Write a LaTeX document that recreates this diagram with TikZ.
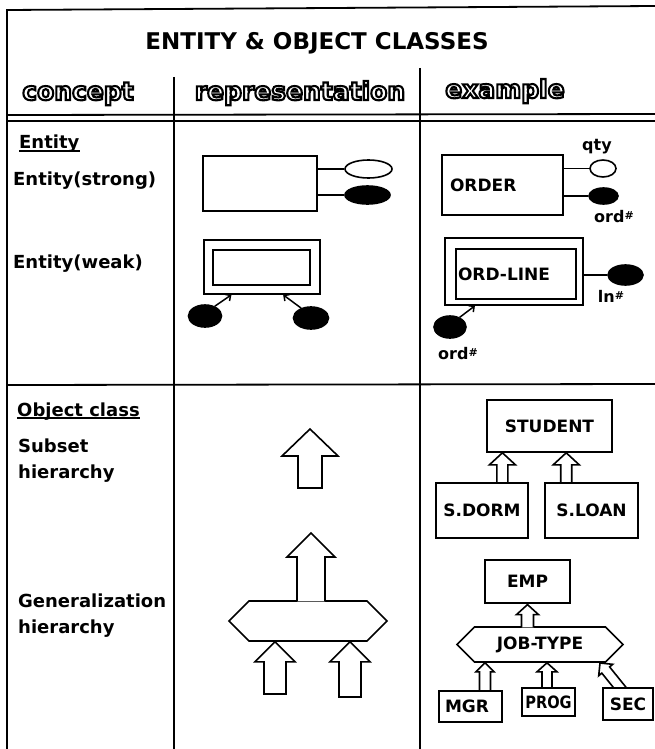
\documentclass[tikz,border=0pt]{standalone}
\usepackage{fontspec}
\setmainfont{DejaVu Sans}
\usetikzlibrary{shapes.geometric,shapes.symbols,calc,arrows.meta,backgrounds}

\newcommand\fsz[1]{\fontsize{#1}{#1}\selectfont}
% hollow (outline) lettering: glyphs stroked, not filled
\newcommand\outlined[1]{\special{pdf:literal direct 1 Tr 2.1 w}#1\special{pdf:literal direct 0 Tr}}
\newcommand\hashmark{{\fsz{11}\raisebox{3pt}{\#}}}

% hollow block arrow pointing up: #1 tip, #2 point giving the foot level,
% #3 half width of the head, #4 head length, #5 half width of the shaft,
% #6 "-- cycle" to close the foot, or empty to leave it open
\newcommand\blockarrow[6]{%
  \path[hollow] let \p1=#1, \p2=#2 in
    (\x1+#5pt,\y2) -- (\x1+#5pt,\y1-#4pt) -- (\x1+#3pt,\y1-#4pt) -- (\x1,\y1)
    -- (\x1-#3pt,\y1-#4pt) -- (\x1-#5pt,\y1-#4pt) -- (\x1-#5pt,\y2) #6;}

\begin{document}
\begin{tikzpicture}[x=1pt,y=-1pt,
  rule/.style={line width=1.8pt},
  box/.style={draw, line width=1.6pt, inner sep=0pt, font=\bfseries\fsz{17}},
  attr/.style={draw, ellipse, line width=1.6pt, inner sep=0pt},
  keyattr/.style={attr, fill=black},
  link/.style={line width=1.6pt},
  idarrow/.style={line width=1.5pt, -{Straight Barb[length=4pt,width=8pt]}},
  hollow/.style={draw, fill=white, line width=1.6pt, line join=miter},
  hexa/.style={draw, signal, signal to=west and east, line width=1.6pt,
    inner sep=0pt, font=\bfseries\fsz{17}},
  maintitle/.style={font=\bfseries\fsz{23}, inner sep=0pt, anchor=base},
  colhead/.style={font=\bfseries\fsz{25}, inner sep=0pt, anchor=base},
  conceptlabel/.style={font=\bfseries\fsz{18}, inner sep=0pt, anchor=base west},
  attrlabel/.style={font=\bfseries\fsz{16}, inner sep=0pt},
  uline/.style={line width=1.6pt},
]
\useasboundingbox (0,0) rectangle (655,749);

% ---- table rules ----
\draw[rule] (7,749) -- (7,10) -- (655,6);
\draw[rule] (174,77) -- (174,749);
\draw[rule] (420,68) -- (420,749);
\draw[rule] (7,115) -- (655,114);
\draw[rule] (7,121) -- (655,121);
\draw[rule] (7,385) -- (655,384);

% ---- headings ----
\node[maintitle] (title) at (317,50) {ENTITY \& OBJECT CLASSES};
\node[colhead] (hconcept) at (78,100) {\outlined{concept}};
\node[colhead] (hrepr) at (300,100) {\outlined{representation}};
\node[colhead] (hexample) at (505,98) {\outlined{example}};

% ---- concept column ----
\node[conceptlabel] (entity) at (19,148) {Entity};
\draw[uline] ($(entity.base west)+(0,3)$) -- ($(entity.base east)+(0,3)$);
\node[conceptlabel] (strong) at (13,185) {Entity(strong)};
\node[conceptlabel] (weak) at (13,268) {Entity(weak)};
\node[conceptlabel] (objclass) at (17,416) {Object class};
\draw[uline] ($(objclass.base west)+(0,2)$) -- ($(objclass.base east)+(0,2)$);
\node[conceptlabel] (subset1) at (18,452) {Subset};
\node[conceptlabel] (subset2) at (18,478) {hierarchy};
\node[conceptlabel] (gen1) at (18,607) {Generalization};
\node[conceptlabel] (gen2) at (18,633) {hierarchy};

% ---- representation column: strong entity ----
\node[box, minimum width=114pt, minimum height=55pt] (srect) at (260,183.5) {};
\node[attr, minimum width=47pt, minimum height=18pt] (sattr) at (368.5,169) {};
\node[keyattr, minimum width=45pt, minimum height=18pt] (skey) at (367.5,195) {};
\draw[link] (srect.east |- sattr) -- (sattr.west);
\draw[link] (srect.east |- skey) -- (skey.west);

% ---- representation column: weak entity ----
\node[box, minimum width=116pt, minimum height=54pt] (wout) at (262,267) {};
\node[box, minimum width=97pt, minimum height=35pt] (win) at (261.5,267.5) {};
\node[keyattr, minimum width=33pt, minimum height=22pt] (wkey1) at (205,316) {};
\node[keyattr, minimum width=35pt, minimum height=22pt] (wkey2) at (311,318) {};
\draw[idarrow] (wkey1.45) -- ($(wout.south west)!0.24!(wout.south east)$);
\draw[idarrow] (wkey2.135) -- ($(wout.south west)!0.68!(wout.south east)$);

% ---- representation column: generalization ----
\node[hexa, minimum width=158pt, minimum height=40pt] (ghex) at (308,621) {};
\blockarrow{(311,533)}{($(ghex.north)+(0,1.2)$)}{24}{24}{14}{}

% ---- example column: entities ----
\node[box, text width=105pt, inner xsep=8pt, align=left, minimum height=60pt]
  (order) at (502.5,185) {ORDER};
\node[attr, minimum width=26pt, minimum height=17pt] (qty) at (603,168.5) {};
\node[keyattr, minimum width=29pt, minimum height=16pt] (ordkey) at (603.5,196) {};
\draw[link] (order.east |- qty) -- (qty.west);
\draw[link] (order.east |- ordkey) -- (ordkey.west);
\node[attrlabel] (qtylab) at (597,147) {qty};
\node[attrlabel] (ordlab) at (614,217) {ord\hashmark};

\node[box, minimum width=138pt, minimum height=67pt] (olout) at (514,271.5) {};
\node[box, text width=116pt, inner xsep=2pt, align=left, minimum height=50pt]
  (olin) at (516,274) {ORD-LINE};
\node[keyattr, minimum width=35pt, minimum height=20pt] (lnkey) at (625.5,275) {};
\draw[link] (olout.east |- lnkey) -- (lnkey.west);
\node[attrlabel] (lnlab) at (611,296) {ln\hashmark};
\node[keyattr, minimum width=32pt, minimum height=22pt] (olkey) at (450,327) {};
\draw[idarrow] (olkey.45) -- ($(olout.south west)!0.22!(olout.south east)$);
\node[attrlabel] (ollab) at (458,354) {ord\hashmark};

% ---- example column: object classes ----
\node[box, minimum width=125pt, minimum height=52pt] (student) at (549.5,426) {STUDENT};
\node[box, minimum width=92pt, minimum height=55pt] (sdorm) at (482,510.5) {S.DORM};
\node[box, minimum width=93pt, minimum height=55pt] (sloan) at (591.5,510.5) {S.LOAN};

\node[box, minimum width=85pt, minimum height=43pt] (emp) at (527.5,581.5) {EMP};
\node[hexa, minimum width=166pt, minimum height=35pt] (jobtype) at (540,644.5) {JOB-TYPE};
\blockarrow{($(emp.south)+(0,0.8)$)}{($(jobtype.north)+(0,1.2)$)}{11}{10}{6}{}
\node[box, text width=51pt, inner xsep=6pt, align=left, minimum height=31pt]
  (mgr) at (470.5,706.5) {MGR};
\node[box, minimum width=53pt, minimum height=28pt] (prog) at (548.5,702) {\scalebox{0.86}[1]{PROG}};
\node[box, minimum width=50pt, minimum height=32pt] (sec) at (628,704) {SEC};

% ---- hollow arrows kept under the boxes ----
\begin{pgfonlayer}{background}
  \fill[white] (0,0) rectangle (655,749);
  % subset hierarchy symbol
  \blockarrow{(310,429)}{(310,488)}{28}{27}{12}{-- cycle}
  % arrows into the generalization symbol
  \blockarrow{($(ghex.south)+(-33,0)$)}{(275,694)}{20}{20}{11}{-- cycle}
  \blockarrow{($(ghex.south)+(42,0)$)}{(350,697)}{20}{20}{11}{-- cycle}
  % subsets of STUDENT
  \blockarrow{($(student.south west)!0.128!(student.south east)$)}{(sdorm.north)}{13}{12}{5.5}{}
  \blockarrow{($(student.south west)!0.632!(student.south east)$)}{(sloan.north)}{13}{12}{5.5}{}
  % specialisations of JOB-TYPE
  \blockarrow{($(jobtype.south)+(-55,0)$)}{(mgr.north)}{9}{9}{5.5}{}
  \blockarrow{($(jobtype.south)+(7,0)$)}{(prog.north)}{10}{9}{5}{}
  \path[hollow] (626.6,688) -- (609.6,666.9) -- (612.7,664.3) -- (600,663)
    -- (598.7,675.7) -- (601.8,673.1) -- (613.8,688);
\end{pgfonlayer}
\end{tikzpicture}
\end{document}
